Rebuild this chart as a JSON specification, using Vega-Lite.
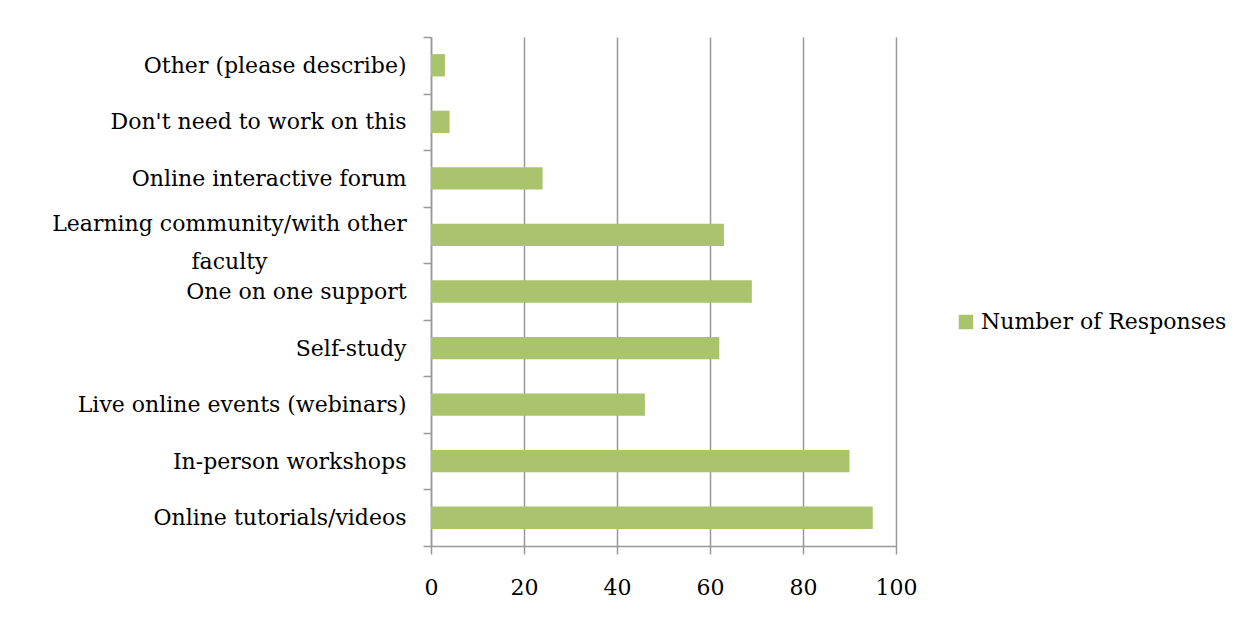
{
  "$schema": "https://vega.github.io/schema/vega-lite/v6.json",
  "autosize": "none",
  "width": 465,
  "height": 509,
  "padding": {"left": 431, "top": 37, "right": 354, "bottom": 80},
  "background": "white",
  "data": {
    "values": [
      {"option": "Other (please describe)", "responses": 3, "series": "Number of Responses"},
      {"option": "Don't need to work on this", "responses": 4, "series": "Number of Responses"},
      {"option": "Online interactive forum", "responses": 24, "series": "Number of Responses"},
      {"option": "Learning community/with other faculty", "responses": 63, "series": "Number of Responses"},
      {"option": "One on one support", "responses": 69, "series": "Number of Responses"},
      {"option": "Self-study", "responses": 62, "series": "Number of Responses"},
      {"option": "Live online events (webinars)", "responses": 46, "series": "Number of Responses"},
      {"option": "In-person workshops", "responses": 90, "series": "Number of Responses"},
      {"option": "Online tutorials/videos", "responses": 95, "series": "Number of Responses"}
    ]
  },
  "mark": {"type": "bar", "height": {"band": 0.395}},
  "encoding": {
    "y": {
      "field": "option",
      "type": "nominal",
      "sort": null,
      "scale": {"paddingInner": 0, "paddingOuter": 0},
      "axis": {
        "title": null,
        "labelFont": "DejaVu Serif",
        "labelFontSize": 22,
        "labelColor": "#000000",
        "labelPadding": {"condition": {"test": "datum.value == 'Learning community/with other faculty'", "value": 194}, "value": 17},
        "labelAlign": {"condition": {"test": "datum.value == 'Learning community/with other faculty'", "value": "center"}, "value": "right"},
        "labelLimit": 0,
        "labelLineHeight": 38,
        "labelOffset": {"condition": {"test": "datum.value == 'Learning community/with other faculty'", "value": -11}, "value": 0},
        "labelExpr": "datum.label == 'Learning community/with other faculty' ? ['Learning community/with other', 'faculty'] : datum.label",
        "tickBand": "extent",
        "tickSize": 8,
        "tickColor": "#999999",
        "tickWidth": 1.5,
        "domainColor": "#999999",
        "domainWidth": 1.5,
        "grid": false
      }
    },
    "x": {
      "field": "responses",
      "type": "quantitative",
      "scale": {"domain": [0, 100], "nice": false},
      "axis": {
        "title": null,
        "values": [0, 20, 40, 60, 80, 100],
        "labelFont": "DejaVu Serif",
        "labelFontSize": 22,
        "labelColor": "#000000",
        "labelPadding": 23,
        "labelFlush": false,
        "tickSize": 8,
        "tickColor": "#999999",
        "tickWidth": 1.5,
        "domainColor": "#999999",
        "domainWidth": 1.5,
        "grid": true,
        "gridColor": "#999999",
        "gridWidth": 1.5
      }
    },
    "color": {
      "field": "series",
      "type": "nominal",
      "scale": {"range": ["#aac46d"]},
      "legend": {
        "title": null,
        "orient": "none",
        "legendX": 524,
        "legendY": 274,
        "symbolType": "square",
        "symbolSize": 210,
        "symbolStrokeWidth": 0,
        "labelFont": "DejaVu Serif",
        "labelFontSize": 22,
        "labelColor": "#000000",
        "labelLimit": 0,
        "labelOffset": 4
      }
    }
  },
  "config": {
    "view": {"stroke": null}
  }
}
